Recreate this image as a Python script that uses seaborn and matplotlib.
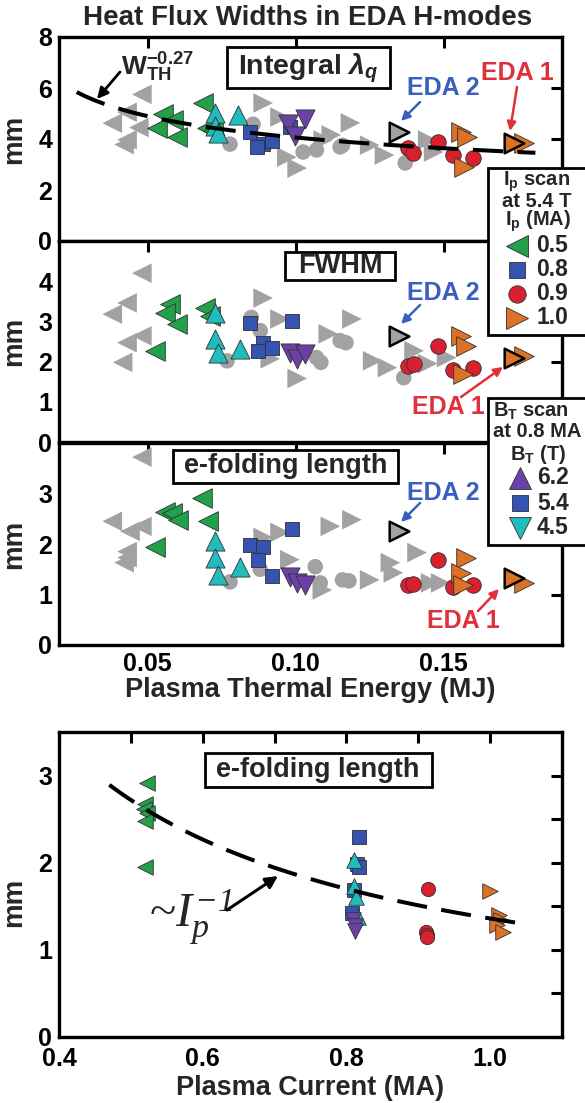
import numpy as np
import matplotlib
matplotlib.use("Agg")
import matplotlib.pyplot as plt
import seaborn as sns

# ---------------- data ----------------
# Panel 1: Integral lambda_q  (x = plasma thermal energy MJ, y = mm)
int_gray_left_x = [0.048, 0.043, 0.038, 0.047, 0.043, 0.042]
int_gray_left_y = [5.75, 5.05, 4.62, 4.45, 3.97, 3.78]
int_gray_right_x = [0.089, 0.0947, 0.1185, 0.112, 0.1093, 0.097, 0.1005, 0.125, 0.130, 0.1466, 0.1446]
int_gray_right_y = [5.41, 4.86, 4.63, 4.16, 3.96, 3.29, 2.86, 3.76, 3.37, 3.49, 3.96]
int_gray_circ_x = [0.0778, 0.0856, 0.1025, 0.107, 0.115, 0.137, 0.1158]
int_gray_circ_y = [3.80, 4.58, 3.49, 3.57, 3.69, 3.06, 3.75]
int_green_x = [0.055, 0.0585, 0.053, 0.060, 0.0686, 0.070, 0.072]
int_green_y = [5.00, 4.75, 4.43, 4.08, 5.40, 4.43, 4.30]
int_cyan_x = [0.0727, 0.0805, 0.0727, 0.0737]
int_cyan_y = [5.02, 4.95, 4.50, 4.25]
int_blue_x = [0.0846, 0.089, 0.092, 0.087, 0.098]
int_blue_y = [4.27, 3.80, 3.92, 3.69, 4.47]
int_purple_x = [0.0975, 0.1032, 0.0998]
int_purple_y = [4.60, 4.80, 4.10]
int_red_x = [0.148, 0.1381, 0.1398, 0.153, 0.160]
int_red_y = [3.88, 3.65, 3.45, 3.37, 3.25]
int_orange_x = [0.1558, 0.158, 0.1568, 0.177]
int_orange_y = [4.27, 4.08, 2.90, 3.84]
int_eda2 = (0.1348, 4.27)
int_eda1 = (0.1737, 3.84)

# Panel 2: FWHM
fw_gray_left_x = [0.048, 0.043, 0.038, 0.048, 0.043, 0.0415]
fw_gray_left_y = [4.20, 3.46, 3.18, 2.64, 2.47, 1.98]
fw_gray_right_x = [0.089, 0.0947, 0.0914, 0.1005, 0.119, 0.111, 0.126, 0.131, 0.140, 0.1446, 0.151]
fw_gray_right_y = [3.58, 3.06, 2.07, 1.58, 3.06, 2.69, 2.02, 1.85, 2.27, 1.95, 2.10]
fw_gray_circ_x = [0.085, 0.088, 0.0768, 0.107, 0.115, 0.117, 0.1365, 0.1085]
fw_gray_circ_y = [3.10, 2.77, 2.02, 2.10, 2.52, 2.47, 1.60, 1.98]
fw_green_x = [0.0575, 0.0558, 0.0598, 0.0693, 0.071, 0.0524]
fw_green_y = [3.43, 3.21, 2.94, 3.33, 3.14, 2.27]
fw_cyan_x = [0.0727, 0.0727, 0.0737, 0.0812]
fw_cyan_y = [3.21, 2.57, 2.22, 2.32]
fw_blue_x = [0.0846, 0.089, 0.092, 0.0873, 0.0988]
fw_blue_y = [2.96, 2.47, 2.35, 2.27, 3.01]
fw_purple_x = [0.098, 0.1005, 0.1032]
fw_purple_y = [2.22, 2.07, 2.20]
fw_red_x = [0.148, 0.1378, 0.140, 0.153, 0.160]
fw_red_y = [2.40, 1.90, 1.95, 1.78, 1.85]
fw_orange_x = [0.1558, 0.1575, 0.1565, 0.177]
fw_orange_y = [2.64, 2.40, 1.70, 2.15]
fw_eda2 = (0.1348, 2.64)
fw_eda1 = (0.1737, 2.10)

# Panel 3: e-folding length vs energy
ef_gray_left_x = [0.048, 0.038, 0.044, 0.048, 0.043, 0.043, 0.042]
ef_gray_left_y = [3.72, 2.45, 2.25, 2.35, 1.85, 1.73, 1.63]
ef_gray_right_x = [0.089, 0.0947, 0.098, 0.1117, 0.119, 0.109, 0.125, 0.132, 0.141, 0.1456, 0.149, 0.133]
ef_gray_right_y = [2.13, 2.23, 1.69, 2.35, 2.48, 1.09, 1.29, 1.63, 1.83, 1.23, 1.23, 1.43]
ef_gray_circ_x = [0.1066, 0.1158, 0.118, 0.1083, 0.0778, 0.088]
ef_gray_circ_y = [1.55, 1.29, 1.27, 1.23, 1.25, 1.50]
ef_green_x = [0.0683, 0.0558, 0.0581, 0.0602, 0.0703, 0.0524]
ef_green_y = [2.92, 2.64, 2.62, 2.48, 2.45, 1.95]
ef_cyan_x = [0.0727, 0.0727, 0.0737, 0.0812]
ef_cyan_y = [2.05, 1.73, 1.39, 1.55]
ef_blue_x = [0.0846, 0.089, 0.0873, 0.092, 0.0988]
ef_blue_y = [1.99, 1.95, 1.69, 1.37, 2.29]
ef_purple_x = [0.098, 0.1005, 0.1032]
ef_purple_y = [1.35, 1.23, 1.19]
ef_red_x = [0.148, 0.1378, 0.1398, 0.153, 0.160]
ef_red_y = [1.69, 1.19, 1.21, 1.15, 1.19]
ef_orange_x = [0.1575, 0.1558, 0.1565, 0.177]
ef_orange_y = [1.73, 1.43, 1.19, 1.23]
ef_eda2 = (0.1348, 2.25)
ef_eda1 = (0.1737, 1.33)

# Panel 4: e-folding length vs plasma current
ip_green_x = [0.523, 0.520, 0.518, 0.523, 0.520, 0.520]
ip_green_y = [2.92, 2.67, 2.62, 2.57, 2.48, 1.95]
ip_blue_x = [0.817, 0.815, 0.817, 0.810, 0.808]
ip_blue_y = [2.30, 1.98, 1.95, 1.69, 1.42]
ip_cyan_x = [0.811, 0.811, 0.813, 0.816]
ip_cyan_y = [2.03, 1.73, 1.61, 1.38]
ip_purple_x = [0.809, 0.812, 0.812]
ip_purple_y = [1.34, 1.27, 1.22]
ip_red_x = [0.914, 0.911, 0.912, 0.912]
ip_red_y = [1.70, 1.21, 1.17, 1.15]
ip_orange_x = [1.000, 1.012, 1.015, 1.010, 1.018]
ip_orange_y = [1.67, 1.40, 1.34, 1.29, 1.20]

# scaling fits
wth_exponent = -0.27
wth_coef = 2.18
wth_range = (0.026, 0.181)
ip_exponent = -1.0
ip_coef = 1.36
ip_range = (0.47, 1.05)

# legend entries
ip_scan_labels = ["0.5", "0.8", "0.9", "1.0"]
bt_scan_labels = ["6.2", "5.4", "4.5"]

# ---------------- style ----------------
sns.set_theme(style="white")
plt.rcParams["font.family"] = ["Liberation Sans", "DejaVu Sans"]
plt.rcParams["font.weight"] = "bold"
plt.rcParams["mathtext.fontset"] = "custom"
plt.rcParams["mathtext.rm"] = "Liberation Serif:style=italic:weight=normal"
plt.rcParams["mathtext.it"] = "Liberation Serif:style=italic:weight=normal"
plt.rcParams["mathtext.bf"] = "Liberation Sans:weight=bold"
plt.rcParams["mathtext.sf"] = "Liberation Sans:style=italic:weight=bold"

GRAY = "#a2a2a4"
GREEN = "#22a04a"
CYAN = "#22bcbc"
BLUE = "#3553b0"
PURPLE = "#6a42a6"
RED = "#d8202e"
ORANGE = "#dc7128"
EDA_BLUE = "#3b5fc0"
EDA_RED = "#e0303a"
EDGE = "#303030"

W, H = 585, 1103
fig = plt.figure(figsize=(W / 100, H / 100), dpi=100)
fig.patch.set_facecolor("white")


def axes_px(left, top, right, bottom):
    return fig.add_axes([left / W, 1 - bottom / H, (right - left) / W, (bottom - top) / H])


ax1 = axes_px(59, 37, 562, 241)
ax2 = axes_px(59, 241, 562, 442)
ax3 = axes_px(59, 443, 562, 645)
ax4 = axes_px(59, 732, 562, 1037)

TRI_S = 200
SQ_S = 95
CI_S = 125


def scat(ax, x, y, marker, color, s, edge=EDGE, lw=0.6, z=3):
    sns.scatterplot(x=x, y=y, ax=ax, marker=marker, color=color, s=s,
                    edgecolor=edge, linewidth=lw, zorder=z, legend=False)


def energy_panel(ax, d):
    (gl, gr, gc, gn, cy, bl, pu, rd, orr, e2, e1) = d
    scat(ax, *gl, "<", GRAY, TRI_S, edge="none", lw=0, z=2)
    scat(ax, *gr, ">", GRAY, TRI_S, edge="none", lw=0, z=2)
    scat(ax, *gc, "o", GRAY, CI_S, edge="none", lw=0, z=2)
    scat(ax, *gn, "<", GREEN, TRI_S)
    scat(ax, *cy, "^", CYAN, TRI_S * 0.95)
    scat(ax, *bl, "s", BLUE, SQ_S)
    scat(ax, *pu, "v", PURPLE, TRI_S * 0.95)
    scat(ax, *rd, "o", RED, CI_S)
    scat(ax, *orr, ">", ORANGE, TRI_S)
    scat(ax, [e2[0]], [e2[1]], ">", GRAY, TRI_S, edge="black", lw=1.8, z=4)
    scat(ax, [e1[0]], [e1[1]], ">", ORANGE, TRI_S, edge="black", lw=1.8, z=4)


energy_panel(ax1, ((int_gray_left_x, int_gray_left_y), (int_gray_right_x, int_gray_right_y),
                   (int_gray_circ_x, int_gray_circ_y), (int_green_x, int_green_y),
                   (int_cyan_x, int_cyan_y), (int_blue_x, int_blue_y), (int_purple_x, int_purple_y),
                   (int_red_x, int_red_y), (int_orange_x, int_orange_y), int_eda2, int_eda1))
energy_panel(ax2, ((fw_gray_left_x, fw_gray_left_y), (fw_gray_right_x, fw_gray_right_y),
                   (fw_gray_circ_x, fw_gray_circ_y), (fw_green_x, fw_green_y),
                   (fw_cyan_x, fw_cyan_y), (fw_blue_x, fw_blue_y), (fw_purple_x, fw_purple_y),
                   (fw_red_x, fw_red_y), (fw_orange_x, fw_orange_y), fw_eda2, fw_eda1))
energy_panel(ax3, ((ef_gray_left_x, ef_gray_left_y), (ef_gray_right_x, ef_gray_right_y),
                   (ef_gray_circ_x, ef_gray_circ_y), (ef_green_x, ef_green_y),
                   (ef_cyan_x, ef_cyan_y), (ef_blue_x, ef_blue_y), (ef_purple_x, ef_purple_y),
                   (ef_red_x, ef_red_y), (ef_orange_x, ef_orange_y), ef_eda2, ef_eda1))

# W_TH fit
xf = np.linspace(*wth_range, 120)
sns.lineplot(x=xf, y=wth_coef * xf ** wth_exponent, ax=ax1, color="black", lw=2.9,
             linestyle=(0, (7.5, 3.6)), sort=False, estimator=None, zorder=5)

# bottom panel
TRI4, SQ4, CI4 = 125, 88, 105
scat(ax4, ip_green_x, ip_green_y, "<", GREEN, TRI4)
scat(ax4, ip_blue_x, ip_blue_y, "s", BLUE, SQ4)
scat(ax4, ip_cyan_x, ip_cyan_y, "^", CYAN, TRI4)
scat(ax4, ip_purple_x, ip_purple_y, "v", PURPLE, TRI4)
scat(ax4, ip_red_x, ip_red_y, "o", RED, CI4)
scat(ax4, ip_orange_x, ip_orange_y, ">", ORANGE, TRI4)
xi = np.linspace(*ip_range, 120)
sns.lineplot(x=xi, y=ip_coef * xi ** ip_exponent, ax=ax4, color="black", lw=2.9,
             linestyle=(0, (7.5, 3.6)), sort=False, estimator=None, zorder=5)

# axes styling
TICKFS = 18
for ax in (ax1, ax2, ax3, ax4):
    for sp in ax.spines.values():
        sp.set_linewidth(2.4)
        sp.set_color("black")
        sp.set_visible(True)
    ax.tick_params(which="both", direction="in", length=8, width=2.2, top=True, right=True,
                   labelsize=TICKFS, pad=5, colors="black")
    ax.set_xlabel("")
    ax.set_ylabel("mm", fontsize=20, fontweight="bold")
    ax.grid(False)
    ax.set_facecolor("white")
ax4.tick_params(axis="x", which="both", pad=7)

for ax in (ax1, ax2, ax3):
    ax.set_xlim(0.02, 0.19)
    ax.set_xticks([0.05, 0.10, 0.15])
ax1.set_xticklabels([])
ax2.set_xticklabels([])
ax3.set_xticklabels(["0.05", "0.10", "0.15"])
ax1.set_ylim(0, 8)
ax1.set_yticks([0, 2, 4, 6, 8])
ax2.set_ylim(0, 5)
ax2.set_yticks([0, 1, 2, 3, 4])
ax3.set_ylim(0, 4)
ax3.set_yticks([0, 1, 2, 3])
ax3.set_xlabel("Plasma Thermal Energy (MJ)", fontsize=19.5, fontweight="bold", labelpad=1)

ax4.set_xlim(0.4, 1.1)
ax4.set_xticks([0.4, 0.6, 0.8, 1.0])
ax4.set_xticklabels(["0.4", "0.6", "0.8", "1.0"])
ax4.set_xticks([0.5, 0.7, 0.9], minor=True)
ax4.set_ylim(0, 3.5)
ax4.set_yticks([0, 1, 2, 3])
ax4.set_yticks([0.5, 1.5, 2.5], minor=True)
ax4.set_xlabel("Plasma Current (MA)", fontsize=19.5, fontweight="bold", labelpad=3)

for ax, yc in ((ax1, 0.5), (ax2, 0.5), (ax3, 0.5), (ax4, 0.44)):
    ax.yaxis.set_label_coords(-0.063, yc)

# ---------------- overlay (pixel coords) ----------------
ov = fig.add_axes([0, 0, 1, 1], zorder=20)
ov.set_xlim(0, W)
ov.set_ylim(H, 0)
ov.axis("off")
ov.patch.set_alpha(0)


def box(x0, y0, x1, y1, lw=2.0):
    ov.add_patch(plt.Rectangle((x0, y0), x1 - x0, y1 - y0, fc="white", ec="black", lw=lw, zorder=1,
                               clip_on=False))


def arrow(x0, y0, x1, y1, color, lw=2.0, ms=16):
    ov.annotate("", xy=(x1, y1), xytext=(x0, y0),
                arrowprops=dict(arrowstyle="-|>", color=color, lw=lw, mutation_scale=ms,
                                shrinkA=0, shrinkB=0), zorder=3)


ov.text(308, 18, "Heat Flux Widths in EDA H-modes", ha="center", va="center",
        fontsize=20, fontweight="bold")

# panel label boxes
box(227, 47, 390, 88)
ov.text(308, 68, r"Integral $\mathsf{\lambda_q}$", ha="center", va="center", fontsize=20.5,
        fontweight="bold", zorder=2)
box(285, 252, 395, 280)
ov.text(340, 266, "FWHM", ha="center", va="center", fontsize=19.5, fontweight="bold", zorder=2)
box(173, 450, 398, 483)
ov.text(286, 466, "e-folding length", ha="center", va="center", fontsize=19.5,
        fontweight="bold", zorder=2)
box(205, 753, 432, 787)
ov.text(318, 770, "e-folding length", ha="center", va="center", fontsize=19.5,
        fontweight="bold", zorder=2)

# W_TH annotation
ov.text(121, 76, r"W$_\mathbf{TH}^\mathbf{-0.27}$", ha="left", va="baseline", fontsize=19,
        fontweight="bold")
arrow(120, 72, 97, 99, "black", lw=2.0, ms=16)

# EDA labels
EDAFS = 18
ov.text(443, 88, "EDA 2", ha="center", va="center", fontsize=EDAFS, fontweight="bold", color=EDA_BLUE)
arrow(420, 102, 401, 121, EDA_BLUE, lw=1.8, ms=13)
ov.text(517, 73, "EDA 1", ha="center", va="center", fontsize=EDAFS, fontweight="bold", color=EDA_RED)
arrow(517, 87, 510, 131, EDA_RED, lw=1.8, ms=13)

ov.text(443, 293, "EDA 2", ha="center", va="center", fontsize=EDAFS, fontweight="bold", color=EDA_BLUE)
arrow(420, 305, 401, 324, EDA_BLUE, lw=1.8, ms=13)
ov.text(448, 407, "EDA 1", ha="center", va="center", fontsize=EDAFS, fontweight="bold", color=EDA_RED)
arrow(461, 397, 503, 367, EDA_RED, lw=1.8, ms=13)

ov.text(443, 493, "EDA 2", ha="center", va="center", fontsize=EDAFS, fontweight="bold", color=EDA_BLUE)
arrow(420, 503, 401, 522, EDA_BLUE, lw=1.8, ms=13)
ov.text(463, 621, "EDA 1", ha="center", va="center", fontsize=EDAFS, fontweight="bold", color=EDA_RED)
arrow(478, 611, 499, 589, EDA_RED, lw=1.8, ms=13)

# ~Ip^-1 annotation (serif italic, one text)
SERIF = ["Liberation Serif", "DejaVu Serif"]
ov.text(149, 927, r"~$I_p^{-1}$", ha="left", va="baseline", fontsize=35, fontweight="normal",
        family=SERIF)
arrow(227, 910, 278, 876, "black", lw=2.2, ms=18)

# legend 1: Ip scan
LEGH = 14.5
box(488, 168, 600, 335)
ov.text(537, 186, r"I$_\mathbf{p}$ scan", ha="center", va="baseline", fontsize=LEGH, fontweight="bold", zorder=2)
ov.text(537, 207, "at 5.4 T", ha="center", va="baseline", fontsize=LEGH, fontweight="bold", zorder=2)
ov.text(538, 226, r"I$_\mathbf{p}$ (MA)", ha="center", va="baseline", fontsize=LEGH, fontweight="bold", zorder=2)
leg1_markers = [("<", GREEN, 16), ("s", BLUE, 11), ("o", RED, 12.5), (">", ORANGE, 16)]
leg1_y = [246, 270, 294, 318]
for (m, c, ms), yy, lab in zip(leg1_markers, leg1_y, ip_scan_labels):
    ov.plot([517], [yy], marker=m, color=c, ms=ms, mec=EDGE, mew=0.6, ls="none", zorder=2, clip_on=False)
    ov.text(536, yy, lab, ha="left", va="center", fontsize=16.5, fontweight="bold", zorder=2)

# legend 2: BT scan
box(488, 398, 600, 545)
ov.text(531, 416, r"B$_\mathbf{T}$ scan", ha="center", va="baseline", fontsize=LEGH, fontweight="bold", zorder=2)
ov.text(537, 437, "at 0.8 MA", ha="center", va="baseline", fontsize=LEGH, fontweight="bold", zorder=2)
ov.text(538, 460, r"B$_\mathbf{T}$ (T)", ha="center", va="baseline", fontsize=LEGH, fontweight="bold", zorder=2)
leg2_markers = [("^", PURPLE, 16), ("s", BLUE, 11), ("v", CYAN, 16)]
leg2_y = [478, 503, 528]
for (m, c, ms), yy, lab in zip(leg2_markers, leg2_y, bt_scan_labels):
    ov.plot([520], [yy], marker=m, color=c, ms=ms, mec=EDGE, mew=0.6, ls="none", zorder=2, clip_on=False)
    ov.text(537, yy, lab, ha="left", va="center", fontsize=16.5, fontweight="bold", zorder=2)

fig.savefig("out.png", dpi=100, facecolor="white")
